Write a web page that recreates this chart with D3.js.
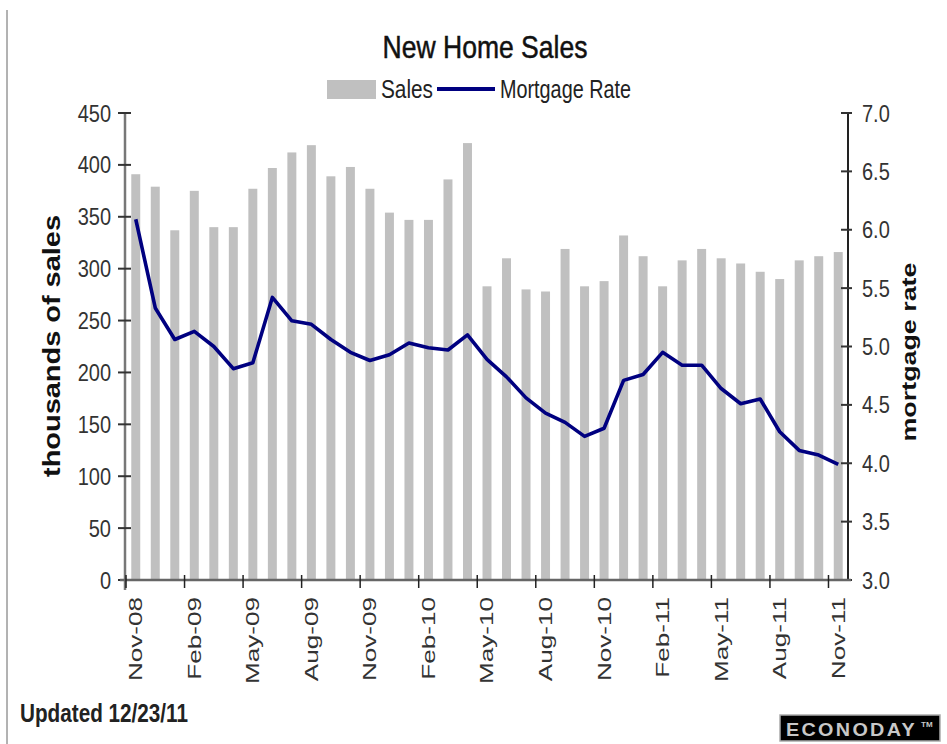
<!DOCTYPE html>
<html>
<head>
<meta charset="utf-8">
<script src="https://cdn.jsdelivr.net/npm/d3@7"></script>
<style>
  body { margin: 0; background: #fff; }
  text { font-family: "Liberation Sans", Arial, sans-serif; }
</style>
</head>
<body>
<svg id="chart" width="947" height="744"></svg>
<script>
const months = ["Nov-08","Dec-08","Jan-09","Feb-09","Mar-09","Apr-09","May-09","Jun-09","Jul-09","Aug-09","Sep-09","Oct-09",
    "Nov-09","Dec-09","Jan-10","Feb-10","Mar-10","Apr-10","May-10","Jun-10","Jul-10","Aug-10","Sep-10","Oct-10",
    "Nov-10","Dec-10","Jan-11","Feb-11","Mar-11","Apr-11","May-11","Jun-11","Jul-11","Aug-11","Sep-11","Oct-11","Nov-11"];

// thousands
const sales = [391, 379, 337, 375, 340, 340, 377, 397, 412, 419, 389, 398,
    377, 354, 347, 347, 386, 421, 283, 310, 280, 278, 319, 283,
    288, 332, 312, 283, 308, 319, 310, 305, 297, 290, 308, 312, 316];

// 30-yr mortgage rate, percent
const mortgageRate = [6.09, 5.33, 5.06, 5.13, 5.00, 4.81, 4.86, 5.42, 5.22, 5.19, 5.06, 4.95,
    4.88, 4.93, 5.03, 4.99, 4.97, 5.10, 4.89, 4.74, 4.56, 4.43, 4.35, 4.23,
    4.30, 4.71, 4.76, 4.95, 4.84, 4.84, 4.64, 4.51, 4.55, 4.27, 4.11, 4.07, 3.99];

const salesTicks = [0, 50, 100, 150, 200, 250, 300, 350, 400, 450];
const rateTicks = [3.0, 3.5, 4.0, 4.5, 5.0, 5.5, 6.0, 6.5, 7.0];

const svg = d3.select("#chart");
const plotLeft = 126, plotRight = 848, plotTop = 113, plotBottom = 580;

const x = d3.scaleBand()
    .domain(months)
    .range([plotLeft, plotRight])
    .paddingInner(0.54)
    .paddingOuter(0.27);
const step = x.step();
const xCenter = m => x(m) + x.bandwidth() / 2;

const ySales = d3.scaleLinear().domain([0, 450]).range([plotBottom, plotTop]);
const yRate = d3.scaleLinear().domain([3, 7]).range([plotBottom, plotTop]);

// stretched text helper (the original is a bit taller than wide)
function label(g, txt, px, py, opts) {
    const t = g.append("text")
        .text(txt)
        .attr("font-size", opts.size)
        .attr("font-weight", opts.bold ? "bold" : "normal")
        .attr("fill", opts.fill || "#222")
        .attr("text-anchor", opts.anchor || "start");
    if (opts.len) t.attr("textLength", opts.len).attr("lengthAdjust", "spacingAndGlyphs");
    if (opts.dy) t.attr("dy", opts.dy);
    if (opts.rotate) {
        t.attr("transform", `translate(${px},${py}) rotate(-90) scale(${opts.stretch || 1},1)`);
    } else {
        t.attr("transform", `translate(${px},${py}) scale(1,${opts.stretch || 1})`);
    }
    return t;
}

// left border
svg.append("line")
    .attr("x1", 7).attr("x2", 7).attr("y1", 10).attr("y2", 744)
    .attr("stroke", "#666").attr("stroke-width", 1);

// title
label(svg, "New Home Sales", 485, 58, { size: 26, anchor: "middle", stretch: 1.22, len: 205, fill: "#111" })
    .attr("stroke", "#111").attr("stroke-width", 0.4);

// legend
svg.append("rect").attr("x", 327).attr("y", 80).attr("width", 49).attr("height", 19).attr("fill", "#c0c0c0");
label(svg, "Sales", 381, 98, { size: 20, stretch: 1.25, len: 52, fill: "#222" });
svg.append("line").attr("x1", 437).attr("x2", 495).attr("y1", 89).attr("y2", 89)
    .attr("stroke", "#000080").attr("stroke-width", 4);
label(svg, "Mortgage Rate", 500, 98, { size: 20, stretch: 1.25, len: 131, fill: "#222" });

// bars
svg.append("g").selectAll("rect")
    .data(months)
    .join("rect")
    .attr("x", d => x(d))
    .attr("width", x.bandwidth())
    .attr("y", (d, i) => ySales(sales[i]))
    .attr("height", (d, i) => plotBottom - ySales(sales[i]))
    .attr("fill", "#c0c0c0");

// mortgage line
const line = d3.line()
    .x((d, i) => xCenter(months[i]))
    .y(d => yRate(d));
svg.append("path")
    .datum(mortgageRate)
    .attr("d", line)
    .attr("fill", "none")
    .attr("stroke", "#000080")
    .attr("stroke-width", 3.6)
    .attr("stroke-linejoin", "round");

// left axis
const gL = svg.append("g");
gL.append("line").attr("x1", plotLeft - 1).attr("x2", plotLeft - 1).attr("y1", plotTop - 1).attr("y2", plotBottom + 10)
    .attr("stroke", "#777").attr("stroke-width", 2.5);
salesTicks.forEach(v => {
    gL.append("line").attr("x1", plotLeft - 8).attr("x2", plotLeft + 5)
        .attr("y1", ySales(v)).attr("y2", ySales(v))
        .attr("stroke", "#333").attr("stroke-width", 2);
    label(gL, String(v), 111, ySales(v) + 8.5, { size: 20, anchor: "end", stretch: 1.22, fill: "#333" });
});

// right axis
const gR = svg.append("g");
gR.append("line").attr("x1", plotRight).attr("x2", plotRight).attr("y1", plotTop - 1).attr("y2", plotBottom)
    .attr("stroke", "#222").attr("stroke-width", 2);
rateTicks.forEach(v => {
    gR.append("line").attr("x1", plotRight - 7).attr("x2", plotRight + 4)
        .attr("y1", yRate(v)).attr("y2", yRate(v))
        .attr("stroke", "#333").attr("stroke-width", 2);
    label(gR, v.toFixed(1), 862, yRate(v) + 8.5, { size: 20, stretch: 1.22, fill: "#333" });
});

// x axis
const gX = svg.append("g");
gX.append("line").attr("x1", plotLeft - 6).attr("x2", plotRight + 3).attr("y1", plotBottom).attr("y2", plotBottom)
    .attr("stroke", "#666").attr("stroke-width", 2.5);
months.forEach((m, i) => {
    if (i % 3 !== 0) return;
    const tx = plotLeft + i * step;
    gX.append("line").attr("x1", tx).attr("x2", tx).attr("y1", plotBottom - 5).attr("y2", plotBottom + 8)
        .attr("stroke", "#222").attr("stroke-width", 1.5);
    label(gX, m, xCenter(m), 597, { size: 18, anchor: "end", rotate: true, stretch: 1.45, dy: "0.36em", fill: "#333" });
});

// axis titles
label(svg, "thousands of sales", 60, 346, { size: 23, bold: true, anchor: "middle", rotate: true, len: 262, fill: "#111" });
label(svg, "mortgage rate", 916, 352, { size: 21, bold: true, anchor: "middle", rotate: true, len: 179, fill: "#111" });

// footer
label(svg, "Updated 12/23/11", 20, 722, { size: 20.5, bold: true, stretch: 1.25, len: 168, fill: "#222" });
svg.append("rect").attr("x", 780).attr("y", 715).attr("width", 160).attr("height", 26)
    .attr("fill", "#000").attr("stroke", "#aaa").attr("stroke-width", 1.5);
label(svg, "ECONODAY", 786, 736, { size: 17, bold: true, stretch: 1.1, len: 131, fill: "#c8c8c8" })
    .attr("letter-spacing", 2);
label(svg, "TM", 921, 727, { size: 8, bold: true, fill: "#c8c8c8" });
</script>
</body>
</html>
